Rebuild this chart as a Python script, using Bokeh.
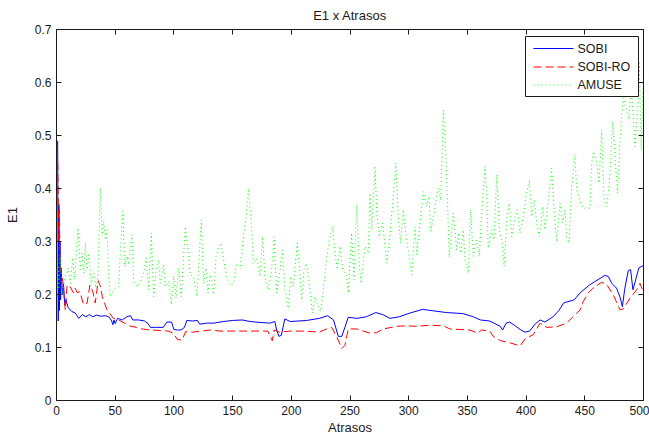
from bokeh.plotting import figure
from bokeh.models import Range1d, LinearAxis, FixedTicker, BoxAnnotation, Arrow, Label, Title
from bokeh.embed import file_html
from bokeh.resources import INLINE

# E1 against lag for the three separation methods
sobi_lag = [1, 1.5, 2, 2.5, 3, 3.5, 4, 5, 6, 7, 8, 10, 13, 16, 19, 22, 25, 28, 31, 34,
            38, 42, 45, 47, 48, 49, 50, 52, 56, 60, 63, 65, 70, 75, 78, 80, 85, 91, 94, 98,
            100, 103, 106, 109, 111, 116, 120, 122, 128, 134, 142, 150, 158, 165, 175, 182,
            186, 187.5, 189.5, 191.5, 194.5, 199, 213, 224, 231, 236, 240, 243, 245.5, 248.5,
            256, 264, 272, 278, 284, 292, 301, 312, 318, 332, 346, 355, 361, 369, 378, 380,
            383, 386, 390, 395, 399, 403, 408, 412, 416, 423, 428, 432, 441, 446, 454, 462,
            467, 470, 473, 477, 480, 482, 484, 487, 489, 491, 493, 496, 500]
sobi_e1 = [0.49, 0.15, 0.37, 0.17, 0.30, 0.19, 0.25, 0.20, 0.22, 0.18, 0.19, 0.175, 0.168,
           0.165, 0.155, 0.162, 0.158, 0.162, 0.158, 0.161, 0.159, 0.160, 0.157, 0.150, 0.143,
           0.152, 0.145, 0.155, 0.152, 0.158, 0.160, 0.152, 0.152, 0.150, 0.145, 0.138, 0.138,
           0.138, 0.148, 0.148, 0.134, 0.133, 0.133, 0.138, 0.151, 0.150, 0.151, 0.144, 0.146,
           0.146, 0.149, 0.151, 0.152, 0.149, 0.147, 0.146, 0.149, 0.133, 0.121, 0.123, 0.154,
           0.149, 0.151, 0.155, 0.160, 0.152, 0.121, 0.121, 0.137, 0.157, 0.155, 0.158, 0.166,
           0.162, 0.155, 0.158, 0.165, 0.172, 0.170, 0.166, 0.164, 0.158, 0.152, 0.150, 0.140,
           0.133, 0.146, 0.148, 0.142, 0.134, 0.129, 0.131, 0.145, 0.152, 0.148, 0.158, 0.170,
           0.184, 0.190, 0.203, 0.218, 0.229, 0.236, 0.234, 0.221, 0.212, 0.195, 0.177, 0.210,
           0.245, 0.247, 0.209, 0.225, 0.250, 0.255]

sobiro_lag = [1, 1.5, 2, 2.5, 3, 4, 5, 6, 7, 7.5, 9, 11.5, 14.5, 16, 17.5, 20, 23, 26, 28.5,
              31, 33, 35.5, 37.5, 39, 43, 48.5, 53, 58, 62, 68, 73, 80, 90, 95, 99.5, 103,
              107, 110, 116, 124, 131, 139, 148, 156, 170, 180, 182, 183.8, 185.5, 190, 199,
              210, 224, 230, 234.4, 238.6, 243, 245.7, 248.5, 255.7, 261.4, 267, 272.7, 278.4,
              289.7, 298.3, 306.8, 318, 329.5, 335, 352, 359, 362, 369, 372, 378, 386, 395,
              399, 406, 412, 417.5, 426, 434.5, 440, 446, 448.7, 453, 457, 464.4, 468.6, 474.3,
              480, 482.8, 488.5, 494.2, 497, 498, 500]
sobiro_e1 = [0.45, 0.38, 0.30, 0.36, 0.265, 0.240, 0.234, 0.210, 0.180, 0.171, 0.218, 0.215,
             0.203, 0.212, 0.204, 0.205, 0.181, 0.183, 0.218, 0.205, 0.184, 0.226, 0.215, 0.196,
             0.171, 0.155, 0.152, 0.146, 0.141, 0.138, 0.135, 0.133, 0.132, 0.131, 0.127, 0.115,
             0.114, 0.130, 0.129, 0.131, 0.133, 0.131, 0.131, 0.131, 0.131, 0.131, 0.121, 0.113,
             0.133, 0.129, 0.131, 0.131, 0.129, 0.135, 0.138, 0.121, 0.098, 0.104, 0.135, 0.135,
             0.131, 0.127, 0.128, 0.135, 0.140, 0.141, 0.140, 0.142, 0.141, 0.135, 0.133, 0.127,
             0.133, 0.131, 0.121, 0.113, 0.109, 0.103, 0.116, 0.124, 0.146, 0.138, 0.139, 0.146,
             0.158, 0.171, 0.187, 0.203, 0.212, 0.223, 0.219, 0.199, 0.171, 0.173, 0.193, 0.209,
             0.221, 0.215, 0.205]

amuse_lag = [1, 2, 3.3, 4.7, 7.5, 9.8, 11.8, 13.8, 15.5, 18.3, 20.3, 21.7, 23.2, 24.6, 26,
             27.4, 29.7, 31.7, 33.6, 35.3, 37.3, 38.8, 40.2, 41.6, 43, 44.4, 45.8, 48.7, 53,
             54.3, 56.4, 58, 60, 61.5, 62.9, 64.3, 65.7, 68.6, 71.4, 74.3, 76.5, 78.5, 80.7,
             82.8, 84.8, 87, 88.4, 91.3, 92.7, 95.6, 97.8, 99.8, 101.8, 104.1, 106.3, 109.7,
             112, 114, 116.8, 119.7, 123.3, 125.4, 127.3, 129, 131, 133.9, 135.9, 138.2, 140.1,
             142.4, 145.2, 147.2, 150.9, 153.2, 156.6, 159.4, 161.4, 163.5, 165, 166.3, 167.6,
             170.5, 173.3, 175.6, 177.6, 180.4, 183.3, 185.3, 187.5, 190.4, 192.3, 194.6, 197.4,
             199.5, 201.7, 205.1, 206.8, 208.9, 210.8, 213.1, 215.9, 217.9, 220.2, 223, 225,
             227.3, 230.2, 232.4, 235.3, 237.2, 239.2, 241.5, 243.8, 247.2, 248.5, 251.4, 253.4,
             255.7, 257.9, 259.4, 262.8, 265.6, 267, 268.5, 271.3, 272.7, 274.9, 277.8, 279.8,
             281.2, 284, 286.3, 289.1, 291.1, 293.1, 295.4, 297.7, 300.5, 302.5, 305.4, 306.8,
             309.6, 312.4, 315.3, 317.3, 318.7, 321, 323.3, 325.2, 327.3, 329.5, 331.5, 333,
             334.5, 338, 340.9, 342.3, 344.3, 346.5, 348, 350.8, 352.8, 355, 357.9, 360.1,
             362.2, 365, 366.4, 367.8, 370.7, 372.7, 375, 377.2, 379.2, 381.3, 383.5, 385.7,
             387.8, 390, 392.5, 394.8, 397.6, 399.9, 402.7, 404.8, 407, 409, 411.3, 414.2,
             416.1, 418.9, 421.8, 424, 426.1, 428.9, 431.2, 433.1, 434.6, 436.5, 438.8, 441.6,
             443.1, 446.5, 448.7, 454.4, 455.9, 457.3, 460.2, 462.1, 464.4, 466.4, 468.7, 470.9,
             473.8, 476.3, 478, 480, 481.4, 482.8, 485.7, 487.7, 488.5, 490, 492.8, 494.2,
             495.6, 496.5, 498, 499, 500]
amuse_e1 = [0.29, 0.21, 0.272, 0.200, 0.235, 0.250, 0.221, 0.269, 0.228, 0.325, 0.247, 0.278,
            0.240, 0.297, 0.247, 0.275, 0.221, 0.240, 0.212, 0.234, 0.401, 0.313, 0.338, 0.303,
            0.322, 0.234, 0.196, 0.209, 0.215, 0.278, 0.357, 0.253, 0.272, 0.256, 0.291, 0.313,
            0.225, 0.215, 0.225, 0.243, 0.269, 0.209, 0.316, 0.196, 0.247, 0.265, 0.221, 0.256,
            0.215, 0.225, 0.181, 0.234, 0.193, 0.250, 0.196, 0.328, 0.284, 0.237, 0.234, 0.196,
            0.341, 0.221, 0.250, 0.203, 0.237, 0.200, 0.272, 0.291, 0.297, 0.265, 0.231, 0.218,
            0.221, 0.259, 0.253, 0.313, 0.344, 0.400, 0.360, 0.322, 0.259, 0.269, 0.234, 0.309,
            0.231, 0.209, 0.247, 0.309, 0.203, 0.247, 0.284, 0.209, 0.174, 0.234, 0.215, 0.297,
            0.253, 0.190, 0.247, 0.259, 0.209, 0.165, 0.196, 0.177, 0.168, 0.209, 0.272, 0.303,
            0.328, 0.278, 0.247, 0.291, 0.247, 0.234, 0.203, 0.316, 0.228, 0.369, 0.259, 0.221,
            0.291, 0.278, 0.391, 0.322, 0.442, 0.360, 0.309, 0.335, 0.291, 0.259, 0.309, 0.372,
            0.448, 0.347, 0.297, 0.360, 0.309, 0.272, 0.237, 0.328, 0.275, 0.335, 0.394, 0.366,
            0.385, 0.319, 0.347, 0.378, 0.401, 0.378, 0.548, 0.470, 0.380, 0.270, 0.354, 0.284,
            0.316, 0.278, 0.322, 0.265, 0.240, 0.360, 0.272, 0.303, 0.272, 0.354, 0.442, 0.385,
            0.288, 0.322, 0.303, 0.426, 0.322, 0.303, 0.253, 0.341, 0.372, 0.309, 0.341, 0.360,
            0.316, 0.347, 0.385, 0.416, 0.347, 0.379, 0.335, 0.309, 0.366, 0.322, 0.379, 0.438,
            0.354, 0.300, 0.372, 0.335, 0.360, 0.309, 0.297, 0.404, 0.464, 0.398, 0.372, 0.363,
            0.363, 0.448, 0.470, 0.448, 0.410, 0.510, 0.379, 0.366, 0.410, 0.526, 0.442, 0.391,
            0.492, 0.536, 0.571, 0.545, 0.530, 0.567, 0.577, 0.479, 0.523, 0.567, 0.637, 0.473,
            0.560, 0.600]

x_ticks = [0, 50, 100, 150, 200, 250, 300, 350, 400, 450, 500]
y_ticks = [0, 0.1, 0.2, 0.3, 0.4, 0.5, 0.6, 0.7]

series_names = ["SOBI", "SOBI-RO", "AMUSE"]
series_colors = ["#0000ff", "#ff0000", "#00ff00"]
series_dashes = ["solid", "8 4", "1 3"]

FONT = "Liberation Sans"
INK = "#1a1a1a"

# plot frame spans 587 x 371 px, placed 56 px from the left and 29 px from the top
p = figure(width=649, height=436, output_backend="svg", toolbar_location=None,
           x_range=Range1d(0, 500), y_range=Range1d(0, 0.7), y_axis_label="E1",
           min_border_left=56, min_border_right=6, min_border_top=29, min_border_bottom=36)

p.background_fill_color = "white"
p.border_fill_color = "white"
p.outline_line_color = INK
p.outline_line_width = 1
p.xgrid.visible = False
p.ygrid.visible = False

# box-style axes: ticks pointing inward on all four sides
right_axis = LinearAxis()
top_axis = LinearAxis()
p.add_layout(right_axis, "right")
p.add_layout(top_axis, "above")

for ax in p.xaxis:
    ax.ticker = FixedTicker(ticks=x_ticks)
for ax in p.yaxis:
    ax.ticker = FixedTicker(ticks=y_ticks)

for ax in p.xaxis + p.yaxis:
    ax.major_tick_in = 5
    ax.major_tick_out = 0
    ax.minor_tick_line_color = None
    ax.axis_line_color = INK
    ax.major_tick_line_color = INK
    ax.major_label_text_font = FONT
    ax.major_label_text_font_size = "12px"
    ax.major_label_text_color = INK
    ax.axis_label_text_font = FONT
    ax.axis_label_text_font_size = "13px"
    ax.axis_label_text_font_style = "normal"
    ax.axis_label_text_color = INK

p.xaxis[0].major_label_standoff = 4
p.yaxis[0].major_label_standoff = 5
p.yaxis[0].axis_label_standoff = 12

top_axis.major_label_overrides = {t: "" for t in x_ticks}
right_axis.major_label_overrides = {t: "" for t in y_ticks}
for ax in (right_axis, top_axis):
    ax.major_label_standoff = 0

# chart title above and the x-axis caption below the tick labels
p.title.text = "E1 x Atrasos"
p.title.align = "center"
p.title.text_font = FONT
p.title.text_font_size = "13px"
p.title.text_font_style = "normal"
p.title.text_color = INK
p.title.vertical_align = "top"

x_caption = Title(text="Atrasos", align="center", text_font=FONT, text_font_size="13px",
                  text_font_style="normal", text_color=INK, standoff=0)
p.add_layout(x_caption, "below")

p.line(sobi_lag, sobi_e1, line_color=series_colors[0], line_width=1,
       line_dash=series_dashes[0])
p.line(sobiro_lag, sobiro_e1, line_color=series_colors[1], line_width=1,
       line_dash=series_dashes[1])
p.line(amuse_lag, amuse_e1, line_color=series_colors[2], line_width=1,
       line_dash=series_dashes[2])

# legend box in the upper-right corner, in screen units from the frame's bottom-left
box_left, box_right, box_bottom, box_top = 469, 582, 304, 364
p.add_layout(BoxAnnotation(left=box_left, right=box_right, bottom=box_bottom, top=box_top,
                           left_units="screen", right_units="screen",
                           bottom_units="screen", top_units="screen",
                           fill_color="white", fill_alpha=1.0,
                           line_color=INK, line_width=1, line_alpha=1.0, level="overlay"))
row_y = [352, 333.5, 315.5]
for name, color, dash, y in zip(series_names, series_colors, series_dashes, row_y):
    p.add_layout(Arrow(x_start=477, y_start=y, x_end=517, y_end=y,
                       start_units="screen", end_units="screen", end=None,
                       line_color=color, line_width=1, line_dash=dash, level="overlay"))
    p.add_layout(Label(x=521, y=y, x_units="screen", y_units="screen", text=name,
                       text_font=FONT, text_font_size="12.5px", text_color=INK,
                       text_baseline="middle", level="overlay"))

open("out.html", "w").write(file_html(p, INLINE))
